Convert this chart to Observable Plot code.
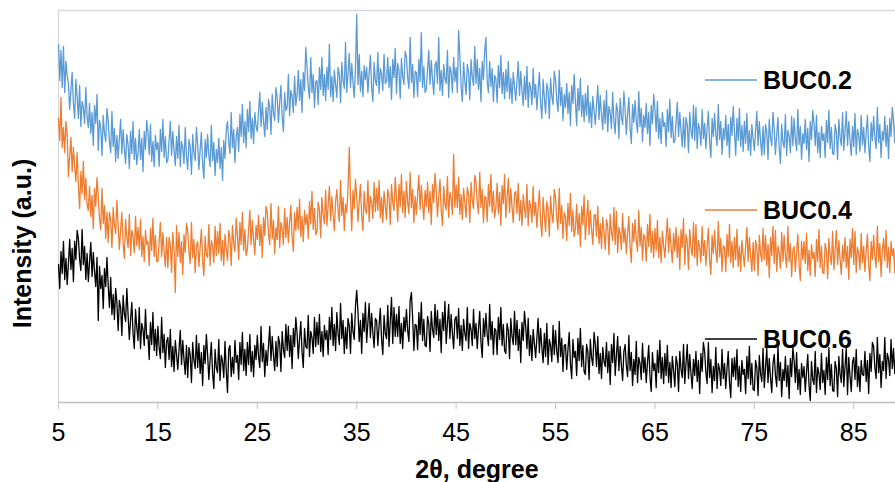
<!DOCTYPE html>
<html>
<head>
<meta charset="utf-8">
<script src="https://cdn.jsdelivr.net/npm/d3@7"></script>
<script src="https://cdn.jsdelivr.net/npm/@observablehq/plot@0.6"></script>
<style>
  html, body { margin: 0; padding: 0; background: #fff; }
  #chart svg { display: block; }
</style>
</head>
<body>
<div id="chart"></div>
<script>
// ---- Data (intensity in arbitrary units) ----
const seriesNames = ["BUC0.2", "BUC0.4", "BUC0.6"];
const seriesColors = ["#5b9bd5", "#ed7d31", "#000000"];
const xTicks = [5, 15, 25, 35, 45, 55, 65, 75, 85];
const thetaStart = 5;      // first sampled 2θ (degree)
const thetaStep = 0.125;   // sampling step of the scan (degree)

// one group of 8 samples per degree, starting at 5°
const buc02 = [
358,322,352,315,356,310,341,327, 318,293,313,330,299,284,323,305, 284,317,276,301,295,279,315,286,
275,299,269,290,257,297,279,308, 252,282,275,247,287,269,261,294, 282,261,250,291,256,274,241,267,
244,264,283,249,273,254,239,268, 258,234,271,249,281,243,264,238, 249,273,243,264,231,271,253,282,
270,248,278,241,261,236,267,253, 260,236,273,251,283,245,266,240, 242,262,281,247,271,252,237,266,
244,277,236,261,255,239,275,246, 233,263,256,228,268,250,242,275, 258,233,253,270,239,224,263,245,
268,247,236,277,242,260,227,253, 240,264,234,255,222,262,244,273, 281,260,249,290,255,273,240,266,
275,251,288,266,298,260,281,255, 293,271,301,264,284,259,290,276, 271,291,310,276,300,281,266,295,
273,303,296,268,308,290,282,315, 305,280,300,317,286,271,310,292, 295,328,287,312,306,290,326,297,
308,332,302,323,290,330,312,355, 336,315,304,345,310,328,295,321, 322,298,335,313,345,307,328,302,
335,313,358,306,326,301,332,318, 305,335,328,300,340,322,314,360, 310,330,349,315,339,320,305,334,
388,318,348,311,331,306,337,323, 335,310,330,347,316,301,340,322, 317,350,309,334,328,312,348,319,
321,345,315,336,303,343,325,354, 309,339,332,304,344,326,318,351, 346,325,314,365,320,338,305,331,
330,306,343,321,370,315,336,310, 313,333,352,318,342,323,308,337, 341,319,365,312,332,307,338,324,
319,352,305,336,330,310,345,321, 335,310,372,347,316,301,340,322, 308,338,331,303,343,325,317,356,
319,343,313,334,301,341,323,352, 365,321,310,341,316,334,301,327, 324,300,337,315,347,309,330,304,
333,311,341,304,324,299,330,316, 302,322,341,307,331,312,297,326, 303,336,295,320,314,298,334,305,
318,293,313,330,299,284,323,305, 289,319,312,284,324,306,298,331, 323,302,291,332,297,315,282,308,
295,319,289,310,277,317,299,328, 301,277,314,292,324,286,307,281, 309,287,317,280,300,275,306,292,
278,298,317,283,307,288,273,302, 279,312,271,296,290,274,310,281, 269,299,292,264,304,286,278,311,
293,268,288,305,274,259,298,280, 302,281,270,311,276,294,261,287, 275,299,269,290,257,297,279,308,
293,271,301,264,284,259,290,276, 280,256,293,271,303,265,286,260, 261,281,300,266,290,271,256,285,
255,285,278,250,290,272,264,297, 262,295,254,279,273,257,293,264, 279,254,274,291,260,245,284,266,
289,268,257,298,263,281,248,274, 263,287,257,278,245,285,267,296, 271,247,284,262,294,256,277,251,
281,259,289,252,272,247,278,264, 252,272,291,257,281,262,247,276, 248,278,271,243,283,265,257,290,
273,248,268,285,254,239,278,260, 255,288,247,272,266,250,286,257, 284,263,252,293,258,276,243,269,
259,283,253,274,241,281,263,292, 279,257,287,250,270,245,276,262, 269,245,282,260,292,254,275,249,
248,278,271,243,283,265,257,290, 252,272,291,257,281,262,247,276, 256,289,248,273,267,251,287,258,
275,250,270,287,256,241,280,262, 286,265,254,295,260,278,245,271, 262,286,256,277,244,284,266,295,
282,260,290,253
];

const buc04 = [
284,262,305,255,275,250,281,267, 226,246,265,231,255,236,221,250, 218,194,231,209,241,203,224,198,
192,216,186,207,174,214,196,225, 205,184,173,214,179,197,164,190, 160,190,183,155,195,177,169,202,
178,153,173,190,159,144,183,165, 155,188,147,172,166,150,186,157, 175,153,183,146,166,141,172,158,
161,137,174,152,184,146,167,141, 141,161,180,146,170,151,136,165, 135,165,158,130,170,152,110,177,
146,170,140,161,128,168,150,179, 171,150,139,180,145,163,130,156, 161,136,156,173,142,127,166,148,
145,178,137,162,156,140,176,147, 171,149,179,142,162,137,168,154, 142,172,165,137,177,159,151,184,
167,143,180,158,190,152,173,147, 153,173,192,158,182,163,148,177, 163,187,157,178,145,185,167,196,
190,169,158,199,164,182,149,175, 163,196,155,180,174,158,194,165, 185,160,180,197,166,151,190,172,
195,173,203,166,186,161,192,178, 188,164,201,179,211,173,194,168, 170,200,193,165,205,187,179,212,
177,197,216,182,206,187,172,201, 213,192,181,222,187,205,172,198, 190,214,255,205,172,212,194,223,
206,181,201,218,187,172,211,193, 189,222,181,206,200,184,220,191, 214,192,222,185,205,180,211,197,
183,213,206,178,218,200,192,225, 205,181,218,196,228,190,211,185, 221,200,189,230,195,213,180,206,
188,208,227,193,217,198,183,212, 196,220,190,211,178,218,200,229, 211,186,206,223,192,177,216,198,
193,226,185,210,204,188,248,195, 217,195,225,188,208,183,214,200, 185,215,208,180,220,202,194,227,
221,200,189,230,195,213,180,206, 205,181,218,196,228,190,211,185, 195,219,189,210,177,217,199,228,
185,205,224,190,214,195,180,209, 211,189,219,182,202,177,208,194, 185,218,177,202,196,180,216,187,
200,175,195,212,181,166,205,187, 171,201,194,166,206,188,180,213, 205,184,173,214,179,197,164,190,
186,162,199,177,209,171,192,166, 174,198,168,189,156,196,178,207, 163,183,202,168,192,173,158,187,
188,166,196,159,179,154,185,171, 153,183,176,148,188,170,162,195, 158,191,150,175,169,153,189,160,
174,149,169,186,155,140,179,161, 183,162,151,192,157,175,142,168, 165,141,178,156,188,150,171,145,
174,152,182,145,165,140,171,157, 145,165,184,150,174,155,140,169, 151,175,145,166,133,173,155,184,
138,168,161,133,173,155,147,180, 145,178,137,162,156,140,176,147, 162,137,157,174,143,128,167,149,
172,151,140,181,146,164,131,157, 155,131,168,146,178,140,161,135, 165,143,173,136,156,131,162,148,
136,156,175,141,165,146,131,160, 132,162,155,127,167,149,141,174, 143,167,137,158,125,165,147,176,
139,172,131,156,150,134,170,141, 167,146,135,176,141,159,126,152, 156,131,151,168,137,122,161,143,
161,139,169,132,152,127,158,144, 150,126,163,141,173,135,156,130, 129,159,152,124,164,146,138,171,
133,153,172,138,162,143,128,157, 141,165,135,156,123,163,145,174, 138,171,130,155,149,133,169,140,
156,131,151,168,137,122,161,143, 167,146,135,176,141,159,126,152, 164,142,172,135,155,130,161,147,
154,130,167,145
];

const buc06 = [
138,114,151,129,161,123,144,118, 139,163,133,154,121,161,143,172, 164,143,132,173,138,156,123,149,
121,141,160,126,150,131,116,145, 82,136,114,127,94,134,116,145, 117,95,125,88,108,83,114,100,
72,102,95,67,107,89,81,114, 88,63,83,100,69,54,93,75, 62,95,54,79,73,57,93,64,
67,43,80,58,90,52,73,47, 76,55,44,85,50,68,35,61, 65,43,73,36,56,31,62,48,
33,53,72,38,62,43,28,57, 25,55,48,20,60,42,34,67, 35,59,29,50,17,57,39,68,
48,23,43,60,29,14,53,35, 30,63,22,47,41,25,61,32, 10,53,57,26,45,29,62,40,
47,23,60,38,70,32,53,27, 60,38,68,31,51,26,57,43, 67,46,35,76,41,59,26,52,
37,57,76,42,66,47,32,61, 36,66,59,31,71,53,45,78, 52,76,46,67,34,74,56,85,
69,44,64,81,50,35,74,56, 54,87,46,71,65,49,85,56, 80,58,88,51,71,46,77,63,
72,48,85,63,95,57,78,52, 90,69,58,99,64,82,49,75, 54,84,77,49,89,71,63,96,
112,91,61,82,49,89,71,100, 60,80,99,65,89,70,55,84, 82,57,77,94,63,48,87,69,
64,97,56,81,105,59,95,66, 88,66,96,59,79,54,85,71, 93,72,61,102,110,85,52,78,
77,53,90,68,100,62,83,57, 56,86,79,51,91,73,65,98, 68,92,62,83,50,90,72,101,
59,79,98,64,88,69,54,83, 86,64,94,57,77,52,83,69, 62,95,54,79,73,57,93,64,
79,54,74,91,60,45,84,66, 89,68,57,98,63,81,48,74, 72,48,85,63,95,57,78,52,
49,79,72,44,84,66,58,91, 58,82,52,73,40,80,62,91, 76,54,84,47,67,42,73,59,
45,65,84,50,74,55,40,69, 46,79,38,63,57,41,77,48, 72,51,40,81,46,64,31,57,
58,33,53,70,39,24,63,45, 51,27,64,42,74,36,57,31, 28,58,51,23,63,45,37,70,
58,36,66,29,49,24,55,41, 36,60,30,51,18,58,40,69, 27,47,66,32,56,37,22,51,
58,37,26,67,32,50,17,43, 28,61,20,45,39,23,59,30, 45,20,40,57,26,11,50,32,
39,15,52,30,62,24,45,19, 49,27,57,20,40,15,46,32, 16,46,39,11,51,33,25,58,
19,39,58,24,48,29,14,43, 27,51,21,42,9,49,31,60, 51,30,19,60,25,43,10,36,
22,55,14,39,33,17,53,24, 39,14,34,51,20,5,44,26, 45,23,53,16,36,11,42,28,
33,9,46,24,56,18,39,13, 12,42,35,7,47,29,21,54, 15,35,54,20,44,25,10,39,
48,27,16,57,22,40,6,33, 22,46,16,37,4,44,26,55, 42,20,50,13,33,8,39,25,
36,11,31,48,17,2,41,23, 18,51,10,35,29,13,49,20, 32,8,45,23,55,17,38,12,
11,41,34,6,46,28,20,53, 16,36,55,8,45,26,11,40, 45,23,53,16,36,11,42,28,
27,51,21,42,9,49,31,60, 56,35,24,65,30,48,15,41, 32,65,24,49,43,27,63,34,
54,29,49,66
];

// ---- Build tidy rows ----
const seriesValues = [buc02, buc04, buc06];
const rows = [];
seriesValues.forEach((vals, s) => {
  vals.forEach((v, i) => rows.push({series: seriesNames[s], theta: thetaStart + i * thetaStep, intensity: v}));
});

const font = "'Liberation Sans', Arial, sans-serif";

const chart = Plot.plot({
  width: 895,
  height: 482,
  marginLeft: 58,
  marginRight: 0,
  marginTop: 10,
  marginBottom: 80,
  style: {fontFamily: font, background: "#fff", overflow: "visible", color: "#000"},
  x: {domain: [5, 89.2]},
  y: {domain: [0, 392], axis: null},
  color: {domain: seriesNames, range: seriesColors},
  marks: [
    Plot.ruleY([392], {stroke: "#d9d9d9", strokeWidth: 1.3}),
    Plot.ruleX([5], {stroke: "#d9d9d9", strokeWidth: 1.3}),
    Plot.line(rows, {x: "theta", y: "intensity", z: "series", stroke: "series", strokeWidth: 1.3, clip: true}),
    Plot.ruleY([0], {stroke: "#bfbfbf", strokeWidth: 1.6}),
    Plot.axisX({ticks: xTicks, tickSize: 7, tickPadding: 14, stroke: "#bfbfbf", fill: "#000", fontSize: 25, label: null, tickFormat: d => String(d)}),
    Plot.text(["2θ, degree"], {frameAnchor: "bottom", textAnchor: "middle", lineAnchor: "middle", dy: 67, fontSize: 25, fontWeight: "bold", fill: "#000"}),
    Plot.text(["Intensity (a.u.)"], {frameAnchor: "left", textAnchor: "middle", lineAnchor: "middle", rotate: -90, dx: -36, dy: 37, fontSize: 25, fontWeight: "bold", fill: "#000"})
  ]
});

document.getElementById("chart").appendChild(chart);

// ---- Legend (Excel-style, inside the plot on the right) ----
const legendY = [80, 210, 339];
const svg = d3.select(chart);
const lg = svg.append("g").attr("class", "legend").attr("text-anchor", "start");
seriesNames.forEach((name, i) => {
  lg.append("line")
    .attr("x1", 705).attr("x2", 757)
    .attr("y1", legendY[i]).attr("y2", legendY[i])
    .attr("stroke", seriesColors[i]).attr("stroke-width", 1.5);
  lg.append("text")
    .attr("x", 763).attr("y", legendY[i] + 9)
    .attr("text-anchor", "start")
    .attr("font-family", font).attr("font-size", 25).attr("font-weight", "bold")
    .attr("fill", "#000")
    .text(name);
});
</script>
</body>
</html>
